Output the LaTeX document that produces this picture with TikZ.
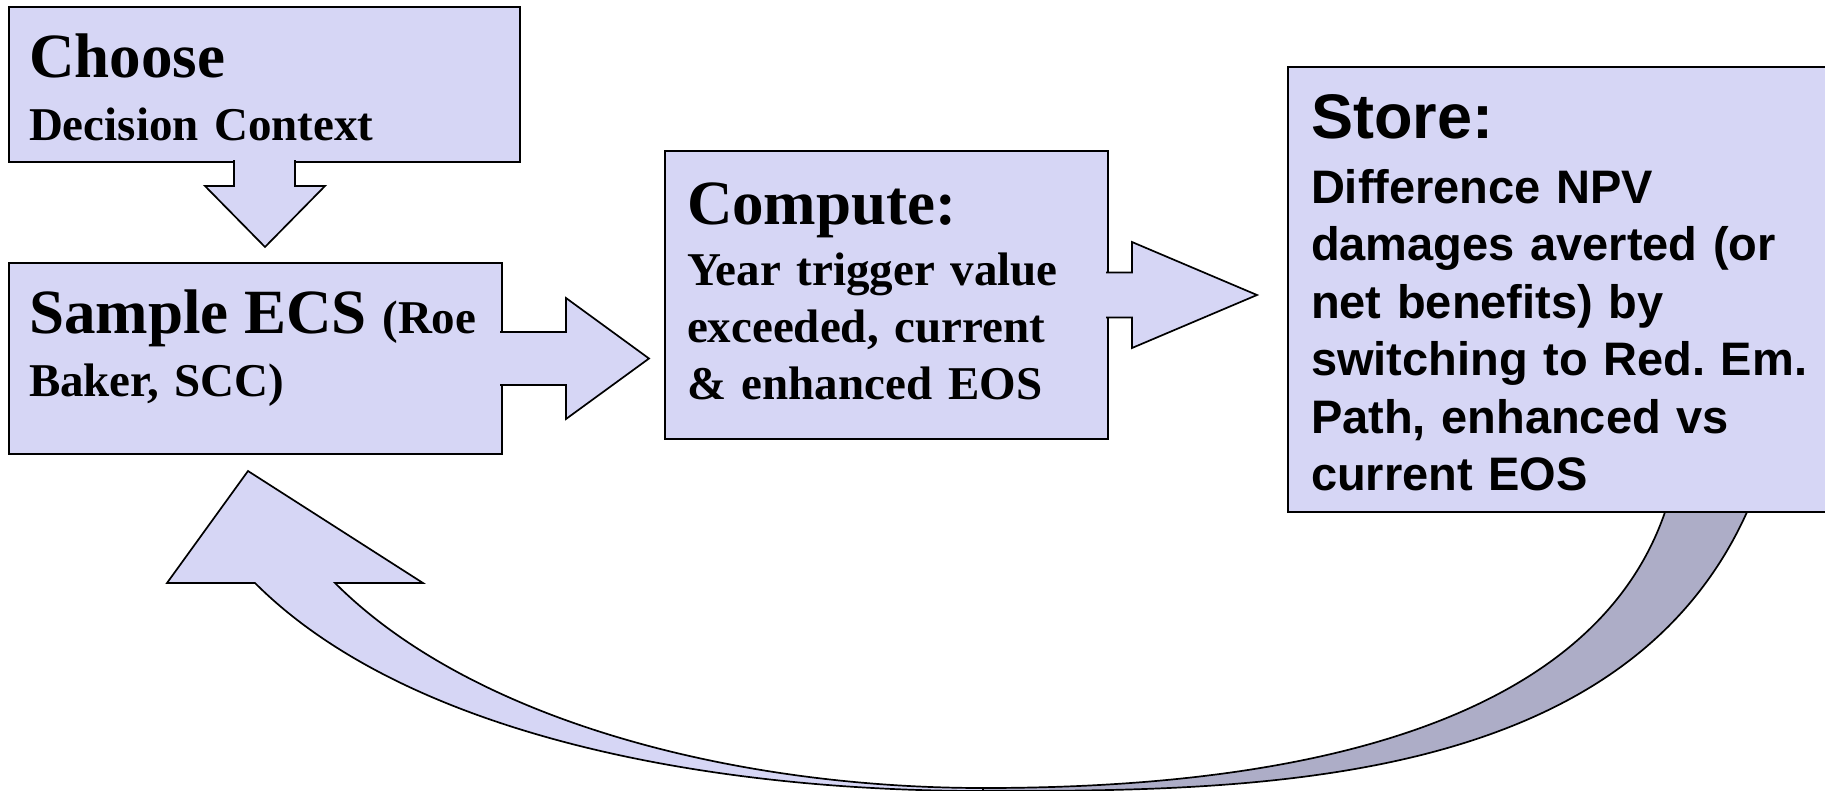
\documentclass[tikz,border=0pt]{standalone}
\usepackage{fontspec}
\setmainfont{Liberation Serif}
\newfontfamily\arialfont{Liberation Sans}
\usepackage{tikz}
\definecolor{boxfill}{RGB}{214,214,245}
\definecolor{backfill}{RGB}{173,173,199}
\newcommand{\bighead}{\fontsize{63}{74}\selectfont}
\newcommand{\smallbody}{\fontsize{47}{57}\selectfont}
\newcommand{\lowpad}[1]{\rule[-#1pt]{0pt}{#1pt}}
\newcommand{\toppad}[1]{\rule{0pt}{#1pt}}
\tikzset{
  box/.style={draw, line width=2.1pt, fill=boxfill, anchor=north west, inner sep=0pt,
    outer sep=0pt, align=left, font=\bfseries\smallbody},
  blockarrow/.style={draw, line width=1.7pt, fill=boxfill, line join=miter},
}
\begin{document}
\begin{tikzpicture}[x=1pt, y=-1pt]
	  \useasboundingbox (0,0) rectangle (1825,790);
	  % back side of the return arrow
	  \draw[blockarrow, fill=backfill] (983,791) .. controls (1250,791) and (1622,790) .. (1747,512)
	    -- (1747,505) -- (1665,505) -- (1665,512) .. controls (1580,760) and (1200,788) .. (983,788) -- cycle;
	  \node[box, minimum width=511pt, minimum height=155pt, text width=471pt] (choose) at (9,7)
	    {{\bighead\toppad{49}Choose}\\[6pt] Decision Context};
	  \node[box, minimum width=493pt, minimum height=191pt, text width=453pt] (sample) at (9,263)
	    {{\bighead Sample~ECS}~(Roe\\[6pt] Baker, SCC)\lowpad{30}};
	  \node[box, minimum width=443pt, minimum height=288pt, text width=399pt] (compute) at (665,151)
	    {{\bighead Compute:}\\[4pt] Year trigger value\\ exceeded, current\\ \& enhanced EOS\lowpad{7}};
	  \node[box, minimum width=560pt, minimum height=445pt, text width=514pt,
	    font=\arialfont\bfseries\fontsize{47}{57.5}\selectfont] (store) at (1288,67)
	    {{\bighead\toppad{51}Store:}\\[7pt] Difference NPV\\ damages averted (or\\ net benefits) by\\
	     switching to Red.~Em.\\ Path, enhanced vs\\ current EOS};
	  \draw[blockarrow, shift={(choose.south)}] (-30.5,-2) -- (-30.5,24) -- (-59.5,24) -- (0.5,85)
	    -- (60.5,24) -- (30.5,24) -- (30.5,-2);
	  \draw[blockarrow, shift={(sample.east)}] (-2,-26.5) -- (64,-26.5) -- (64,-60.5) -- (147,0)
	    -- (64,60.5) -- (64,26.5) -- (-2,26.5);
	  \draw[blockarrow, shift={(compute.east)}] (-2,-22.5) -- (24,-22.5) -- (24,-53) -- (149,0)
	    -- (24,53) -- (24,22.5) -- (-2,22.5);
	  % front side of the return arrow
	  \draw[blockarrow] (255,583) -- (167,583) -- (248,471) -- (423,583) -- (335,583)
	    .. controls (475,723) and (740,788) .. (983,788) -- (983,791)
	    .. controls (700,791) and (405,733) .. (255,583) -- cycle;
	\end{tikzpicture}
\end{document}
